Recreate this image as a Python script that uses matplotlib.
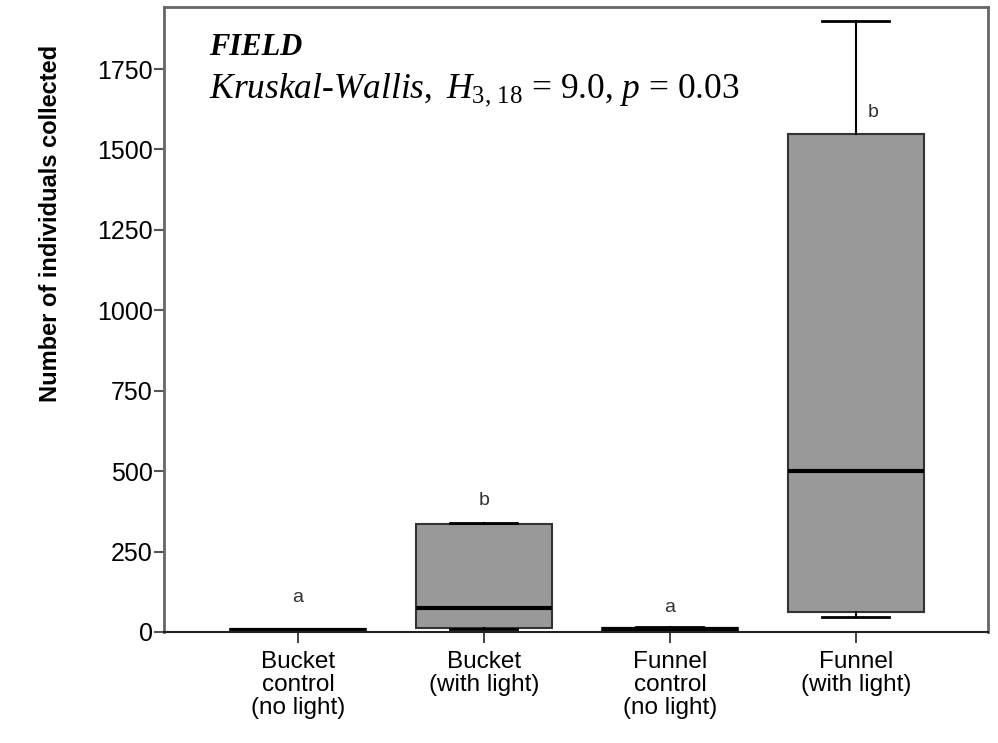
import numpy as np
import matplotlib.pyplot as plt

# groups and box summary values
groups = ["Bucket\ncontrol\n(no light)", "Bucket\n(with light)",
          "Funnel\ncontrol\n(no light)", "Funnel\n(with light)"]
whis_lo = [2, 10, 4, 47]
q1 = [3, 12, 6, 62]
medians = [5, 75, 9, 500]
q3 = [8, 336, 12, 1547]
whis_hi = [10, 340, 14, 1900]
letters = ["a", "b", "a", "b"]
letter_y = [106, 408, 75, 1616]

plt.rcParams['font.family'] = ['Liberation Sans', 'DejaVu Sans']
plt.rcParams['mathtext.fontset'] = 'custom'
plt.rcParams['mathtext.rm'] = 'Liberation Serif'
plt.rcParams['mathtext.it'] = 'Liberation Serif:italic'
plt.rcParams['mathtext.bf'] = 'Liberation Serif:bold'

fig = plt.figure(figsize=(9.98, 7.43), dpi=100)
ax = fig.add_axes([0.1643, 0.1494, 0.8257, 0.8412])

stats = []
for i in range(len(groups)):
    stats.append(dict(whislo=whis_lo[i], q1=q1[i], med=medians[i],
                      q3=q3[i], whishi=whis_hi[i], fliers=[]))

pos = np.arange(1, len(groups) + 1)
ax.bxp(stats, positions=pos, widths=0.73, patch_artist=True,
       capwidths=0.36, manage_ticks=False,
       boxprops=dict(facecolor='#999999', edgecolor='#333333', linewidth=1.5),
       medianprops=dict(color='black', linewidth=3),
       whiskerprops=dict(color='black', linewidth=1.5),
       capprops=dict(color='black', linewidth=2))

for i, (lt, ly) in enumerate(zip(letters, letter_y)):
    xoff = 0.09 if i == 3 else 0
    ax.text(pos[i] + xoff, ly, lt, ha='center', va='center',
            fontsize=14, color='#333333')

ax.set_xlim(0.28, 4.71)
ax.set_ylim(0, 1943)
ax.set_yticks([0, 250, 500, 750, 1000, 1250, 1500, 1750])
ax.set_xticks(pos)
ax.set_xticklabels(groups, fontsize=17.5, linespacing=1.05)
ax.tick_params(axis='y', labelsize=18, length=7, width=1.5, color='#555555', pad=1)
ax.tick_params(axis='x', length=8, width=1.2, color='#222222', pad=6)

for side in ['left', 'top', 'right']:
    ax.spines[side].set_color('#666666')
    ax.spines[side].set_linewidth(2)
ax.spines['bottom'].set_color('#222222')
ax.spines['bottom'].set_linewidth(1.5)

ax.set_ylabel("Number of individuals collected", fontsize=17,
              fontweight='bold')
ax.yaxis.set_label_coords(-0.124, 0.654)

ax.text(0.055, 0.935, "FIELD", transform=ax.transAxes, fontsize=22,
        family='Liberation Serif', style='italic', fontweight='bold',
        va='center')
ax.text(0.055, 0.868,
        r"$\mathit{Kruskal}$-$\mathit{Wallis},\ H_{3,\,18}$ = 9.0, $p$ = 0.03",
        transform=ax.transAxes, fontsize=25.5, va='center',
        family='Liberation Serif')

fig.savefig("out.png", dpi=100)
